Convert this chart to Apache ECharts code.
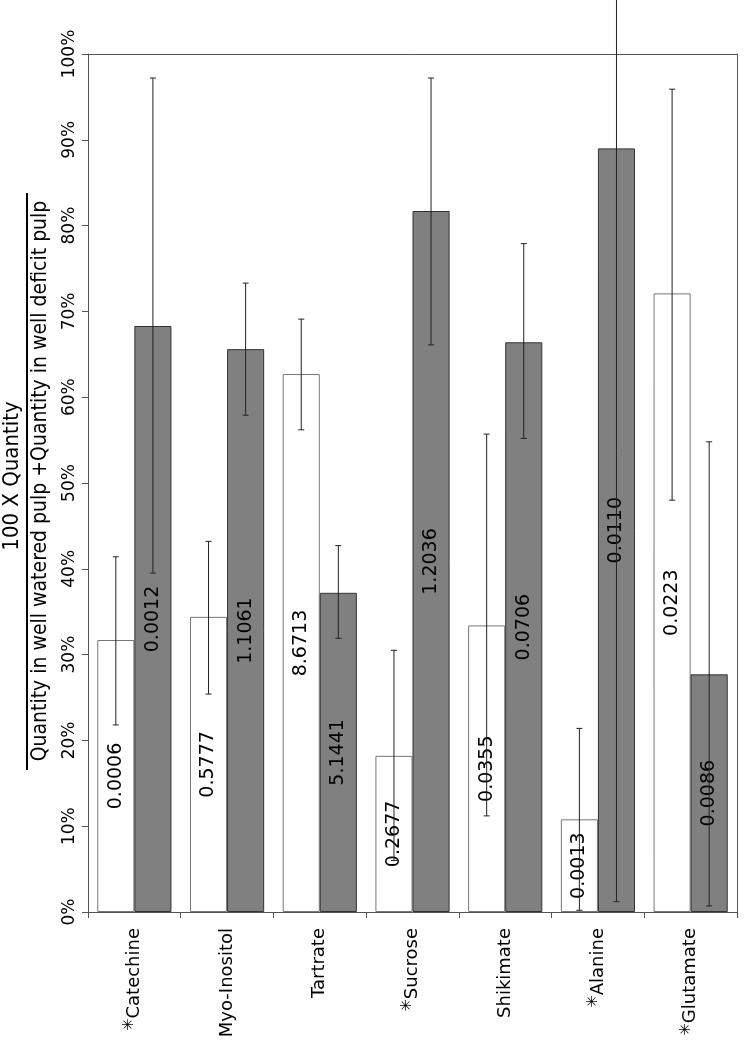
<!DOCTYPE html>
<html><head><meta charset="utf-8">
<script src="https://cdn.jsdelivr.net/npm/echarts@6/dist/echarts.min.js"></script>
<style>html,body{margin:0;padding:0;background:#fff}#c{width:745px;height:1049px}</style>
</head><body><div id="c"></div>
<script>
var categories = ['Catechine','Myo-Inositol','Tartrate','Sucrose','Shikimate','Alanine','Glutamate'];
var starred = [true,false,false,true,false,true,true];
var wateredPct = [31.7, 34.4, 62.7, 18.2, 33.4, 10.8, 72.1];
var wateredLow = [21.8, 25.4, 56.2, 6.0, 11.2, 0.2, 48.0];
var wateredHigh = [41.4, 43.2, 69.1, 30.5, 55.7, 21.4, 95.9];
var wateredLabels = ['0.0006','0.5777','8.6713','0.2677','0.0355','0.0013','0.0223'];
var deficitPct = [68.3, 65.6, 37.2, 81.7, 66.4, 89.0, 27.7];
var deficitLow = [39.5, 57.9, 31.9, 66.1, 55.2, 1.2, 0.7];
var deficitHigh = [97.2, 73.3, 42.7, 97.2, 77.9, 176.8, 54.8];
var deficitLabels = ['0.0012','1.1061','5.1441','1.2036','0.0706','0.0110','0.0086'];
var yTicks = [0,10,20,30,40,50,60,70,80,90,100];

var chart = echarts.init(document.getElementById('c'), null, {renderer:'canvas'});
function errData(low, high){ return categories.map(function(c,i){ return [i, low[i], high[i]]; }); }
function errSeries(name, low, high, side){
  return {
    type:'custom', name:name, clip:false, z:5,
    data: errData(low, high),
    encode:{x:0, y:[1,2]},
    renderItem:function(params, api){
      var band = api.size([1,0])[0];
      var cx = api.coord([api.value(0), 0])[0] + side*band*0.2;
      var top = api.coord([api.value(0), api.value(2)])[1];
      var bot = api.coord([api.value(0), api.value(1)])[1];
      var cap = 3;
      var st = {stroke:'#222', lineWidth:1};
      return {type:'group', children:[
        {type:'line', shape:{x1:cx,y1:top,x2:cx,y2:bot}, style:st},
        {type:'line', shape:{x1:cx-cap,y1:top,x2:cx+cap,y2:top}, style:st},
        {type:'line', shape:{x1:cx-cap,y1:bot,x2:cx+cap,y2:bot}, style:st}
      ]};
    }
  };
}
chart.setOption({
  animation:false,
  backgroundColor:'#fff',
  grid:{left:88, right:8, top:54, bottom:137, containLabel:false},
  xAxis:[{
    type:'category', data:categories, position:'bottom',
    axisLine:{show:true, onZero:false, lineStyle:{color:'#555', width:1}},
    axisTick:{show:true, length:6, lineStyle:{color:'#555'}},
    axisLabel:{rotate:90, margin:16, interval:0, fontFamily:'DejaVu Sans', fontSize:18, color:'#000',
      formatter:function(v, i){ return starred[i] ? '{s|\u2733}' + v : v; },
      rich:{s:{fontFamily:'DejaVu Sans', fontSize:15, color:'#000', padding:[0,0,10,0]}}
    }
  },{
    type:'category', data:categories, position:'top',
    axisLine:{show:true, onZero:false, lineStyle:{color:'#555', width:1}},
    axisTick:{show:false}, axisLabel:{show:false}
  }],
  yAxis:[{
    type:'value', min:0, max:100, interval:10,
    axisLine:{show:true, lineStyle:{color:'#555'}},
    axisTick:{show:true, length:6, lineStyle:{color:'#555'}},
    splitLine:{show:false},
    axisLabel:{rotate:90, margin:10, fontFamily:'DejaVu Sans', fontSize:17, color:'#000',
      formatter:function(v){ return v + '%'; }}
  },{
    type:'value', min:0, max:100, interval:10, position:'right',
    axisLine:{show:true, lineStyle:{color:'#555'}},
    axisTick:{show:false}, axisLabel:{show:false}, splitLine:{show:false}
  }],
  series:[
    {type:'bar', name:'well watered', data:wateredPct, barWidth:'40%', barGap:'0%',
     itemStyle:{color:'#fff', borderColor:'#777', borderWidth:1},
     label:{show:true, position:'inside', rotate:90, fontFamily:'DejaVu Sans', fontSize:19, color:'#000',
       formatter:function(p){ return wateredLabels[p.dataIndex]; }}},
    {type:'bar', name:'water deficit', data:deficitPct, barWidth:'40%', barGap:'0%',
     itemStyle:{color:'#808080', borderColor:'#333', borderWidth:1},
     label:{show:true, position:'inside', rotate:90, fontFamily:'DejaVu Sans', fontSize:19, color:'#000',
       formatter:function(p){ return deficitLabels[p.dataIndex]; }}},
    errSeries('err watered', wateredLow, wateredHigh, -1),
    errSeries('err deficit', deficitLow, deficitHigh, 1)
  ],
  graphic:[
    {type:'text', x:12, y:476, rotation:Math.PI/2,
     style:{text:'100 X Quantity', fontFamily:'DejaVu Sans Condensed', fontSize:22, fill:'#000', textAlign:'center', textVerticalAlign:'middle'}},
    {type:'line', shape:{x1:27, y1:193, x2:27, y2:770}, style:{stroke:'#000', lineWidth:2}},
    {type:'text', x:41, y:481, rotation:Math.PI/2,
     style:{text:'Quantity in well watered pulp +Quantity in well deficit pulp', fontFamily:'DejaVu Sans Condensed', fontSize:21, fill:'#000', textAlign:'center', textVerticalAlign:'middle'}}
  ]
});
</script></body></html>
